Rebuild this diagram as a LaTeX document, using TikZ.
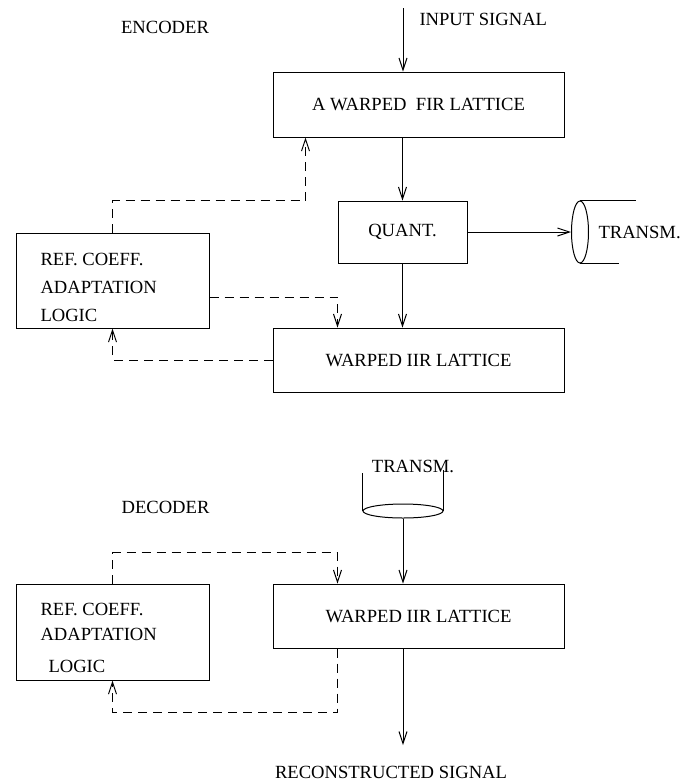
\documentclass[tikz,border=0pt]{standalone}
\usepackage{fontspec}
\setmainfont{Liberation Serif}
\usetikzlibrary{arrows.meta, calc, shapes.geometric}

\begin{document}
\begin{tikzpicture}[x=.5pt, y=-.5pt, line width=.5pt,
    every node/.style={font=\fontsize{9.3}{11.2}\selectfont, inner sep=0pt},
    blk/.style={draw, rectangle},
    sig/.style={-{Straight Barb[length=6pt, width=4pt]}},
    fb/.style={sig, dash pattern=on 4.5pt off 3pt}]
        \useasboundingbox (0,0) rectangle (699,784);
        % encoder
        \node (enc) at (165,27) {ENCODER};
        \coordinate (in) at (403,8);
        \node[anchor=west] (intxt) at (419,19) {INPUT SIGNAL};
        \node[blk, minimum width=145.5pt, minimum height=32.5pt] (fir) at (418.5,104.5) {A WARPED\ \ FIR LATTICE};
        \node[blk, minimum width=64.5pt, minimum height=31pt] (quant) at (402.5,232) {QUANT.};
        \node[blk, minimum width=145.5pt, minimum height=32pt] (iir) at (418.5,360) {WARPED IIR LATTICE};
        \node[blk, minimum width=96.5pt, minimum height=47.5pt] (ref) at (112.5,280.5) {};
        \node[anchor=west, align=left] (reftxt) at (40,287.5) {REF. COEFF.\\[3pt]ADAPTATION\\[3pt]LOGIC};
        \node[draw, ellipse, minimum width=8.5pt, minimum height=31pt] (tx) at (580,232) {};
        \node[anchor=west] (txtxt) at (598,232) {TRANSM.};
        \draw[sig] (in) -- (in |- fir.north);
        \draw[sig] (fir.south -| quant.north) -- (quant.north);
        \draw[sig] (quant.south) -- (quant.south |- iir.north);
        \draw[sig] (quant.east) -- (tx.west);
        \draw (tx.north) -- ++(56,0);
        \draw (tx.south) -- ++(39,0);
        \draw[fb] (ref.north) -- ++(0,-32) -| ($(fir.south west)+(33,0)$);
        \draw[fb] ($(ref.east)+(0,16.5)$) -| ($(iir.north west)+(65,0)$);
        \draw[fb] (iir.west) -| (ref.south);
        % decoder
        \node (dec) at (165.5,507) {DECODER};
        \node (rxtxt) at (413,466) {TRANSM.};
        \node[draw, ellipse, minimum width=40pt, minimum height=7pt] (rx) at (403,511) {};
        \draw (rx.west) -- ++(0,-38);
        \draw (rx.east) -- ++(0,-41);
        \node[blk, minimum width=145.5pt, minimum height=32pt] (diir) at (418.5,616) {WARPED IIR LATTICE};
        \node[blk, minimum width=96.5pt, minimum height=48pt] (dref) at (112.5,632) {};
        \node[anchor=west, align=left] (dreftxt) at (40,638) {REF. COEFF.\\[1.3pt]ADAPTATION\\[4.8pt]\hspace{4pt}LOGIC};
        \coordinate (out) at (403,745);
        \node (outtxt) at (391,772) {RECONSTRUCTED SIGNAL};
        \draw[sig] (rx.south) -- (rx.south |- diir.north);
        \draw[sig] (diir.south -| out) -- (out);
        \draw[fb] (dref.north) -- ++(0,-31) -| ($(diir.north west)+(65,0)$);
        \draw[fb] ($(diir.south west)+(65,0)$) -- ++(0,64) -| (dref.south);
    \end{tikzpicture}
\end{document}
